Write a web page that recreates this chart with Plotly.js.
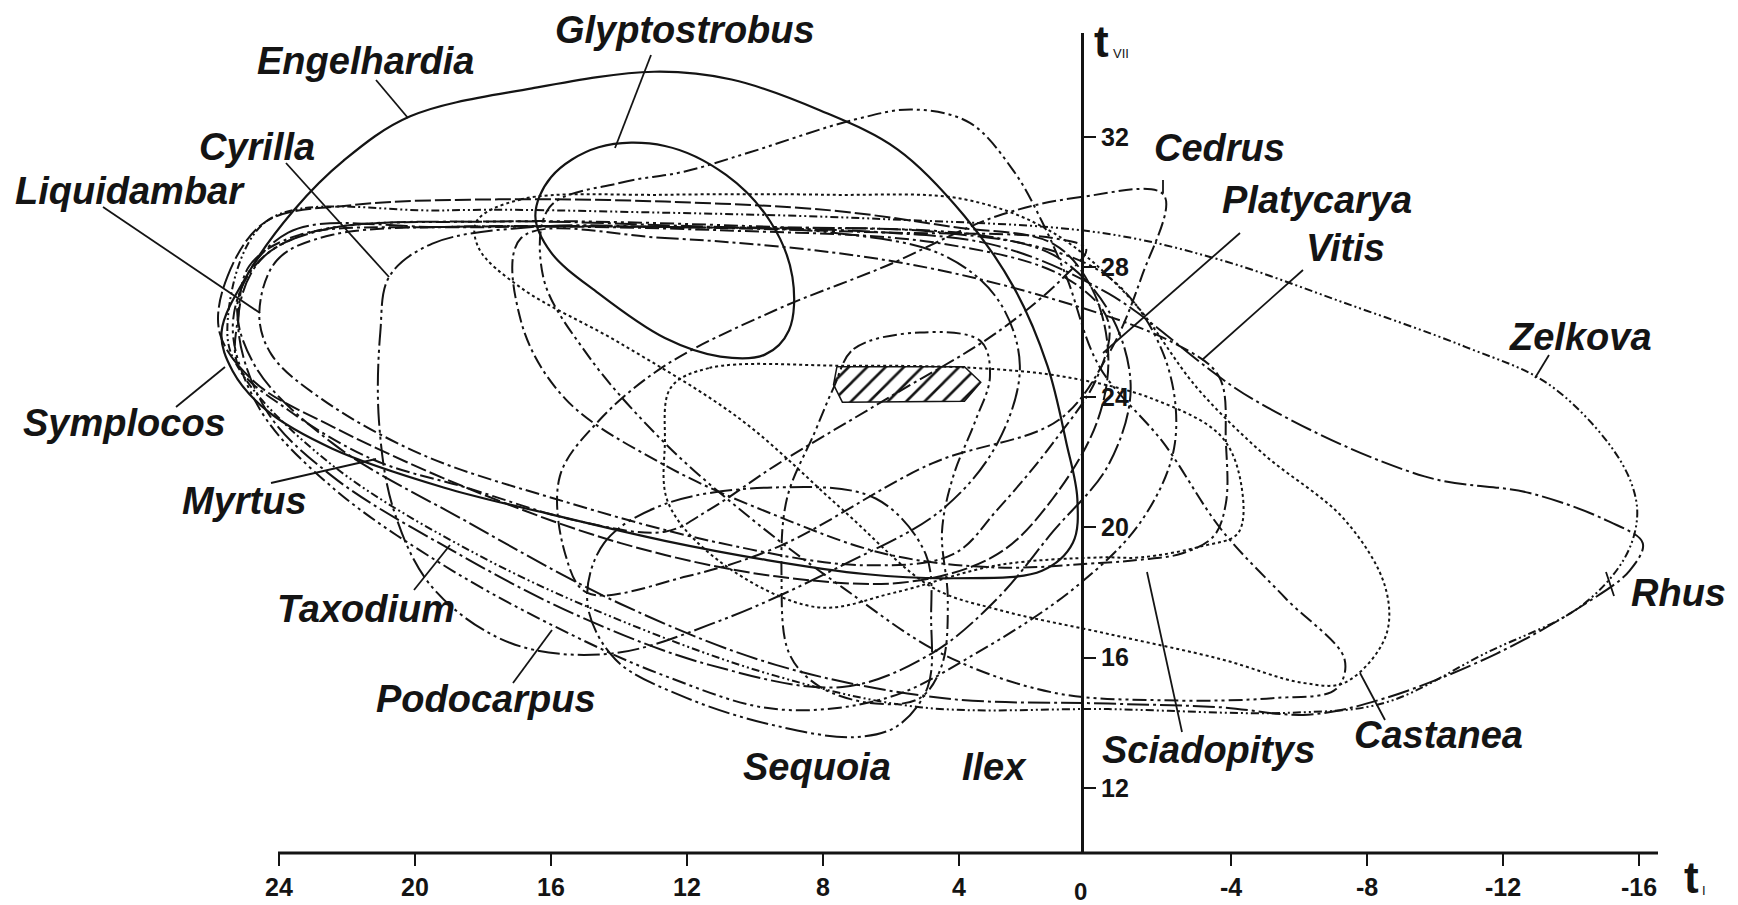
<!DOCTYPE html>
<html>
<head>
<meta charset="utf-8">
<script src="https://cdn.plot.ly/plotly-3.0.1.min.js"></script>
<style>
html,body{margin:0;padding:0;background:#fff;}
#chart{width:1738px;height:905px;}
</style>
</head>
<body>
<div id="chart"></div>
<script>
// ---- data: climatic ranges (t_I = January temp, t_VII = July temp) ----
const engelhardiaX = [25.69,24.87,23.57,22.10,20.14,16.56,12.97,10.69,8.08,5.80,3.84,2.38,1.40,0.84,0.52,0.65,1.56,4.17,6.78,9.71,12.65,15.91,19.16,22.43,24.38,25.36];
const engelhardiaY = [26.00,27.87,29.74,31.27,32.63,33.49,34.00,33.76,32.81,31.61,29.57,27.36,24.97,22.59,20.89,19.53,18.67,18.44,18.57,19.01,19.59,20.38,21.23,22.42,23.61,24.80];
const glyptostrobusX = [16.46,16.00,14.60,12.65,10.85,9.55,8.90,9.00,9.71,11.02,12.65,14.60,16.00];
const glyptostrobusY = [29.57,30.76,31.68,31.72,30.83,29.40,27.70,26.06,25.31,25.25,25.82,27.19,28.45];
const platycaryaX = [16.04,13.95,12.09,10.20,7.07,5.34,3.68,2.38,1.56,0.84,-0.13,-2.02,-3.72,-5.61,-7.34,-7.08,-5.28,-2.02,1.24,4.50,7.43,10.04,12.65,14.93,16.23];
const platycaryaY = [29.84,30.59,30.93,31.51,32.53,32.84,32.43,30.93,29.40,27.70,24.94,22.59,19.93,17.82,15.95,15.03,14.76,14.69,14.93,16.12,18.16,20.21,22.59,25.31,27.70];
const castaneaX = [18.19,16.88,12.65,7.76,3.84,1.24,-1.05,-3.00,-4.93,-7.34,-8.54,-8.54,-7.34,-6.10,-3.72,-0.39,2.87,4.79,7.43,10.40,13.95,16.88,18.12];
const castaneaY = [29.40,30.08,30.22,30.22,30.08,29.06,27.02,24.29,22.28,20.24,18.16,16.63,15.23,15.23,15.95,16.73,17.48,18.16,20.55,23.30,25.65,27.36,28.57];
const sciadopitysX = [12.48,11.34,7.43,3.52,0.91,-1.70,-3.72,-4.31,-4.21,-3.13,-1.34,-0.13,2.87,5.93,8.18,10.98,12.55,12.65];
const sciadopitysY = [24.29,24.90,24.97,24.90,24.63,23.95,22.79,21.26,19.83,19.42,19.08,19.08,18.84,17.99,17.55,18.91,20.75,22.59];
const vitisX = [16.88,12.65,6.13,1.24,-2.35,-3.65,-3.85,-3.85,-3.49,-2.55,-1.34,-0.13,2.87,6.13,9.39,12.65,15.58,16.88];
const vitisY = [28.89,28.89,28.21,27.02,25.65,24.63,22.59,20.75,19.73,19.20,19.01,18.91,18.77,19.18,20.37,21.91,23.95,26.33];
const zelkovaX = [25.52,24.38,19.16,12.65,6.13,-0.13,-3.72,-7.31,-10.89,-13.30,-15.10,-15.81,-15.94,-15.55,-14.25,-11.51,-8.54,-5.77,-0.39,5.15,9.39,13.95,18.19,22.43,25.03];
const zelkovaY = [26.00,29.40,29.74,29.67,29.47,29.06,28.21,26.91,25.55,24.43,22.59,21.26,20.24,19.01,17.55,16.15,14.62,14.31,14.42,14.48,15.44,17.14,19.18,21.91,24.63];
const rhusX = [25.20,23.73,19.16,12.65,6.13,2.87,-0.39,-4.63,-9.69,-12.78,-15.06,-16.11,-15.72,-14.41,-11.80,-8.54,-6.26,-3.65,-0.39,4.50,9.39,13.95,18.51,22.43,24.71];
const rhusY = [27.02,29.06,29.23,29.23,29.06,28.65,27.19,23.95,21.57,21.06,20.21,19.52,18.67,17.65,16.12,14.76,14.25,14.48,14.59,14.76,15.78,17.65,20.20,22.59,24.97];
const cedrusX = [-2.02,0.42,2.87,6.13,9.39,12.65,14.60,15.74,15.58,14.93,12.00,9.29,4.79,1.07,-0.39,-1.37];
const cedrusY = [30.22,30.15,29.57,28.04,26.68,24.97,23.27,21.57,19.18,17.99,18.50,19.42,21.97,23.30,25.31,27.70];
const sequoiaX = [14.93,14.44,12.65,9.39,6.45,4.98,4.82,4.92,5.80,7.07,9.39,12.00,14.11];
const sequoiaY = [17.69,19.52,20.72,21.23,20.89,19.18,17.14,15.10,13.91,13.56,13.91,14.76,15.95];
const ilexX = [7.69,7.10,5.15,3.36,3.09,3.52,4.17,4.50,4.33,4.50,5.15,6.45,8.08,8.99,9.22,9.06,8.24];
const ilexY = [24.29,25.48,25.99,25.72,24.63,23.27,21.57,19.87,17.82,15.78,14.76,14.59,15.10,16.12,18.50,20.89,22.93];
const liquidambarX = [24.58,24.06,22.43,17.54,11.02,4.50,0.91,-0.39,-0.07,1.24,2.87,4.17,6.78,11.02,15.91,19.82,22.75,24.22];
const liquidambarY = [26.57,28.21,28.99,29.23,29.13,28.72,27.70,26.33,24.63,22.59,20.55,19.18,18.84,19.52,20.89,22.25,23.95,25.31];
const symplocosX = [25.75,25.52,24.38,21.77,17.54,12.65,7.76,4.17,1.24,0.10,-0.39,-0.07,1.24,2.87,5.47,9.39,13.95,18.51,22.43,24.71];
const symplocosY = [26.00,27.70,29.40,29.91,30.08,30.01,29.74,29.23,28.72,27.36,25.31,23.27,20.89,19.18,18.33,18.50,19.52,21.23,23.10,24.46];
const myrtusX = [25.20,24.87,23.40,19.16,12.65,6.13,1.24,0.26,0.91,2.87,6.13,9.39,11.34,12.65,15.25,18.51,21.22,23.73,25.20];
const myrtusY = [26.50,28.04,28.99,29.23,29.23,29.06,28.89,28.55,27.70,26.00,23.95,21.91,20.55,19.87,20.21,21.23,22.08,23.61,24.97];
const taxodiumX = [25.20,24.55,22.75,17.54,11.02,4.50,1.24,-0.39,-1.05,-0.39,1.24,2.87,4.82,7.43,11.34,15.25,19.00,22.43,24.38];
const taxodiumY = [26.33,28.21,29.13,29.40,29.23,29.06,28.38,26.67,24.29,21.91,19.87,17.82,16.12,15.10,15.78,17.31,19.35,21.57,23.61];
const podocarpusX = [25.36,24.71,23.08,17.54,9.39,2.87,-0.39,-2.02,-2.35,-1.37,0.58,3.52,6.13,9.39,12.65,15.91,19.16,22.43,24.55];
const podocarpusY = [26.16,28.04,29.06,29.40,29.23,28.89,27.70,25.31,22.59,20.21,18.16,16.12,14.76,14.42,15.44,16.97,18.84,21.23,23.61];
const cyrillaX = [20.76,19.49,16.56,12.65,7.76,4.50,2.87,2.21,2.87,4.50,7.43,11.02,14.28,17.21,19.49,20.63,21.06,21.02];
const cyrillaY = [27.70,28.72,29.23,29.23,29.06,28.38,27.02,24.97,22.59,20.55,18.84,17.14,16.12,16.46,18.16,20.55,23.27,26.00];
// area common to all taxa (hatched)
const overlapX = [7.59,3.84,3.36,3.84,7.43,7.69];
const overlapY = [24.94,24.94,24.46,23.88,23.85,24.39];

const xTickVals = [24,20,16,12,8,4,-4,-8,-12,-16];
const yTickVals = [12,16,20,24,28,32];

// ---- frame geometry (pixels) ----
const L = 190, R = 1658, T = 33, B = 853;
const AXIS_X_START = 278, YAXIS_PX = 1082;
function px(fx){ return (fx - L) / (R - L); }
function py(fy){ return (B - fy) / (B - T); }

// ---- styles ----
const DD  = '14px,4px,3px,4px';
const DDD = '14px,4px,3px,4px,3px,4px';
const DOT = '3px,3px';
const FINE = '8px,3px,2px,3px,2px,3px';
const LDD = '22px,4px,3px,4px';
const LDDD = '22px,4px,3px,4px,3px,4px';

const curves = [
  ['Engelhardia', engelhardiaX, engelhardiaY, 'solid', 2.2],
  ['Glyptostrobus', glyptostrobusX, glyptostrobusY, 'solid', 2.2],
  ['Platycarya', platycaryaX, platycaryaY, DDD, 2],
  ['Castanea', castaneaX, castaneaY, DOT, 2],
  ['Sciadopitys', sciadopitysX, sciadopitysY, DOT, 2],
  ['Vitis', vitisX, vitisY, DD, 2],
  ['Zelkova', zelkovaX, zelkovaY, FINE, 2],
  ['Rhus', rhusX, rhusY, LDD, 2],
  ['Cedrus', cedrusX, cedrusY, DD, 2],
  ['Sequoia', sequoiaX, sequoiaY, LDDD, 2],
  ['Ilex', ilexX, ilexY, DDD, 2],
  ['Liquidambar', liquidambarX, liquidambarY, DD, 2],
  ['Symplocos', symplocosX, symplocosY, '16px,4px', 2],
  ['Myrtus', myrtusX, myrtusY, DD, 2],
  ['Taxodium', taxodiumX, taxodiumY, LDD, 2],
  ['Podocarpus', podocarpusX, podocarpusY, DDD, 2],
  ['Cyrilla', cyrillaX, cyrillaY, LDDD, 2]
];

const INK = '#141414';
const traces = curves.map(c => ({
  type: 'scatter', mode: 'lines', name: c[0],
  x: c[1].concat([c[1][0]]), y: c[2].concat([c[2][0]]),
  line: {color: INK, width: c[4], dash: c[3], shape: 'spline', smoothing: 1},
  hoverinfo: 'skip'
}));
traces.push({
  type: 'scatter', mode: 'lines', name: 'overlap',
  x: overlapX.concat([overlapX[0]]), y: overlapY.concat([overlapY[0]]),
  fill: 'toself', fillcolor: 'rgba(255,255,255,0)',
  fillpattern: {shape: '/', fgcolor: INK, bgcolor: 'rgba(255,255,255,0)', size: 13, solidity: 0.2},
  line: {color: INK, width: 1.5}, hoverinfo: 'skip'
});

// ---- labels (pixel positions) ----
const FAM = 'Liberation Sans, Arial, sans-serif';
const labelFont = {family: FAM, size: 38, color: INK, style: 'italic', weight: 'bold'};
const labels = [
  ['Engelhardia', 366, 61], ['Glyptostrobus', 685, 30], ['Cyrilla', 257, 147],
  ['Liquidambar', 130, 191], ['Symplocos', 124, 423], ['Myrtus', 244, 501],
  ['Taxodium', 366, 609], ['Podocarpus', 486, 699], ['Sequoia', 817, 767],
  ['Ilex', 994, 767], ['Sciadopitys', 1208, 750], ['Castanea', 1438, 735],
  ['Rhus', 1678, 593], ['Zelkova', 1580, 337], ['Vitis', 1345, 248],
  ['Platycarya', 1317, 200], ['Cedrus', 1219, 148]
];
const annotations = labels.map(l => ({
  xref: 'paper', yref: 'paper', x: px(l[1]), y: py(l[2]), text: l[0], showarrow: false,
  xanchor: 'center', yanchor: 'middle', font: labelFont
}));
const tickFont = {family: FAM, size: 25, color: INK, weight: 'bold'};
function note(text, fx, fy, font){
  annotations.push({xref:'paper', yref:'paper', x:px(fx), y:py(fy), text:text, showarrow:false,
    xanchor:'center', yanchor:'middle', font:font});
}
note('0', 1080, 891, {family: FAM, size: 24, color: INK, weight: 'bold'});
note('t', 1101, 41, {family: FAM, size: 44, color: INK, weight: 'bold'});
note('VII', 1121, 53, {family: FAM, size: 13, color: INK});
note('t', 1691, 877, {family: FAM, size: 44, color: INK, weight: 'bold'});
note('I', 1704, 890, {family: FAM, size: 13, color: INK});

// ---- leader lines (pixel positions) ----
const leaders = [
  [376,80,408,118], [651,55,615,148], [286,163,389,277], [103,207,260,313],
  [176,407,225,367], [271,483,376,459], [414,590,450,545], [513,683,552,630],
  [1182,732,1147,572], [1385,720,1360,673], [1606,572,1614,596], [1549,355,1535,378],
  [1303,270,1202,360], [1240,233,1103,353], [1163,180,1163,193]
];
const shapes = leaders.map(s => ({
  type: 'line', xref: 'paper', yref: 'paper', x0: px(s[0]), y0: py(s[1]), x1: px(s[2]), y1: py(s[3]),
  line: {color: INK, width: 1.8}
}));
// x axis base line (starts at the 24 tick, as in the original)
shapes.push({type: 'line', xref: 'paper', yref: 'paper', x0: px(AXIS_X_START), y0: 0, x1: 1, y1: 0,
  line: {color: INK, width: 3}});

const layout = {
  width: 1738, height: 905,
  margin: {l: L, r: 1738 - R, t: T, b: 905 - B},
  paper_bgcolor: '#fff', plot_bgcolor: '#fff',
  showlegend: false,
  xaxis: {
    range: [(1095 - L) / 34, (1095 - R) / 34], showgrid: false, zeroline: false,
    showline: false,
    ticks: 'outside', ticklen: 12, tickwidth: 2, tickcolor: INK,
    tickvals: xTickVals, ticktext: xTickVals.map(String),
    tickfont: tickFont
  },
  yaxis: {
    range: [10, 35.19], showgrid: false, zeroline: false,
    anchor: 'free', position: px(YAXIS_PX), side: 'right',
    showline: true, linecolor: INK, linewidth: 3,
    ticks: 'outside', ticklen: 12, tickwidth: 2, tickcolor: INK,
    tickvals: yTickVals, ticktext: yTickVals.map(String),
    tickfont: tickFont
  },
  annotations: annotations,
  shapes: shapes
};

Plotly.newPlot('chart', traces, layout, {staticPlot: true, displayModeBar: false});
</script>
</body>
</html>
